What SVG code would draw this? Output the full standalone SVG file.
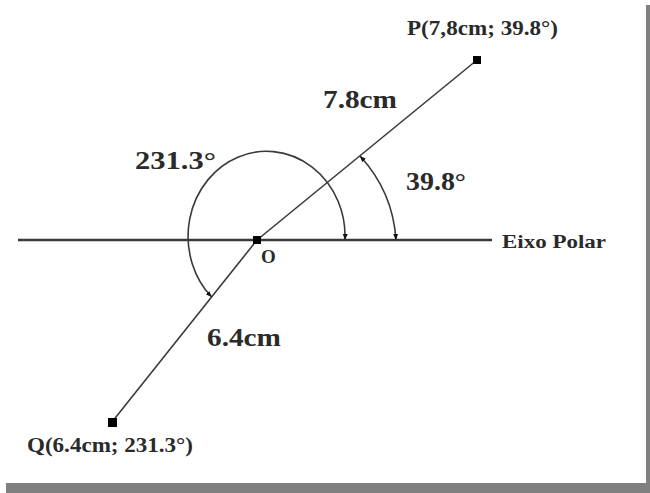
<svg xmlns="http://www.w3.org/2000/svg" width="650" height="493" viewBox="0 0 650 493">
<style>
.lbl{font-family:"Liberation Serif","Times New Roman",serif;font-weight:bold;fill:#2a2a2a}
.big{font-size:26px}
.pt{font-size:21px}
.ln{stroke:#3a3a3a;fill:none}
.arc{stroke:#3a3a3a;stroke-width:1.6;fill:none;marker-start:url(#ah);marker-end:url(#ah)}
.sq{fill:#000}
</style>
<defs>
<marker id="ah" viewBox="0 0 6 6" refX="6" refY="3" markerWidth="6" markerHeight="6" markerUnits="userSpaceOnUse" orient="auto-start-reverse">
<path d="M0,0.5 L6,3 L0,5.5 z" fill="#111"/>
</marker>
</defs>
<rect width="650" height="493" fill="#fff"/>
<rect x="646" y="5" width="4" height="488" fill="#808080"/>
<rect x="6" y="483" width="644" height="10" fill="#808080"/>
<g id="connectors">
<line class="ln" x1="18" y1="240" x2="492" y2="240" stroke-width="2.6"/>
<line class="ln" x1="257" y1="240" x2="477" y2="60" stroke-width="1.6"/>
<line class="ln" x1="257" y1="240" x2="112" y2="422" stroke-width="1.6"/>
<path class="arc" d="M396,240 A137,137 0 0 0 360,156"/>
<path class="arc" d="M345,240 A78.5,85 0 1 0 211.6,297"/>
</g>
<g id="node-O">
<rect class="sq" x="253" y="236" width="8" height="8"/>
<text class="lbl" x="261" y="263" font-size="19">O</text>
</g>
<g id="node-P">
<rect class="sq" x="473" y="56" width="8" height="8"/>
<text class="lbl pt" x="407" y="35" textLength="151" lengthAdjust="spacingAndGlyphs">P(7,8cm; 39.8°)</text>
</g>
<g id="node-Q">
<rect class="sq" x="108" y="418" width="9" height="9"/>
<text class="lbl pt" x="27" y="452" textLength="166" lengthAdjust="spacingAndGlyphs">Q(6.4cm; 231.3°)</text>
</g>
<g id="labels">
<text class="lbl big" x="135" y="169" textLength="81" lengthAdjust="spacingAndGlyphs">231.3°</text>
<text class="lbl big" x="323" y="108" textLength="74" lengthAdjust="spacingAndGlyphs">7.8cm</text>
<text class="lbl big" x="406" y="190" textLength="60" lengthAdjust="spacingAndGlyphs">39.8°</text>
<text class="lbl big" x="207" y="346" textLength="74" lengthAdjust="spacingAndGlyphs">6.4cm</text>
<text class="lbl" x="502" y="248" font-size="18" textLength="104" lengthAdjust="spacingAndGlyphs">Eixo Polar</text>
</g>
</svg>
